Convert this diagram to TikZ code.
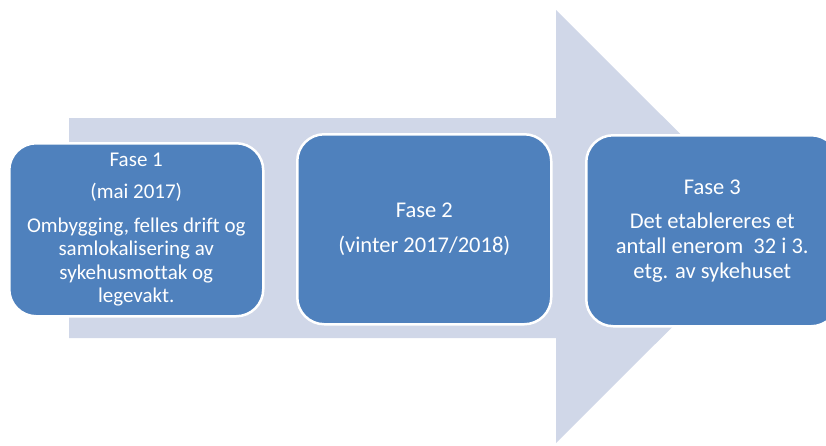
\documentclass[tikz,border=0pt]{standalone}
\usepackage{fontspec}
\setmainfont[Ligatures=NoCommon]{Carlito}
\definecolor{arrowbg}{RGB}{208,215,232}
\definecolor{boxblue}{RGB}{79,129,189}
\begin{document}
\begin{tikzpicture}[x=1pt,y=-1pt,
  phase/.style={draw=white,line width=2.5pt,fill=boxblue,rounded corners=27pt,
    text=white,align=center,inner sep=0pt,anchor=north west},
  bigtext/.style={font=\fontsize{22.5}{24.7}\selectfont},
  smalltext/.style={font=\fontsize{21}{23.5}\selectfont}]
\useasboundingbox (0,0) rectangle (826,445);
\clip (0,0) rectangle (826,445);
\fill[arrowbg] (69,118) -- (556,118) -- (556,10) -- (773,226.5) -- (556,443)
  -- (556,338) -- (69,338) -- cycle;
\node[phase,smalltext,minimum width=254pt,minimum height=173pt] (f1) at (8,142)
  {Fase 1\\[9pt](mai 2017)\\[10pt]Ombygging, felles drift og\\samlokalisering av\\sykehusmottak og\\legevakt.};
\node[phase,bigtext,minimum width=254pt,minimum height=190pt] (f2) at (296,133)
  {Fase 2\\[10pt](vinter 2017/2018)};
\node[phase,bigtext,minimum width=252pt,minimum height=191pt] (f3) at (585,134)
  {Fase 3\\[10pt]Det etablereres et\\antall enerom~ 32 i 3.\\etg. av sykehuset};
\end{tikzpicture}
\end{document}
